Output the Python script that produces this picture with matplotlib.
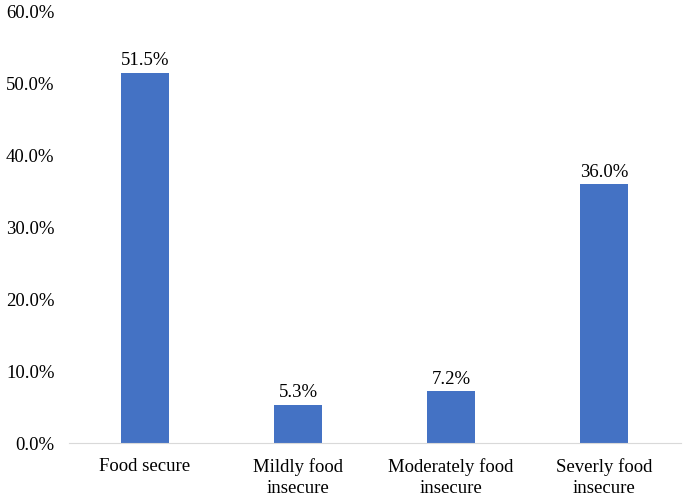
import matplotlib
matplotlib.use("Agg")
import matplotlib.pyplot as plt

categories = ["Food secure", "Mildly food\ninsecure", "Moderately food\ninsecure", "Severly food\ninsecure"]
values = [51.5, 5.3, 7.2, 36.0]
yticks = [0, 10, 20, 30, 40, 50, 60]

plt.rcParams['font.family'] = ['Liberation Serif', 'DejaVu Serif']

fig = plt.figure(figsize=(6.85, 4.97), dpi=100)
ax = fig.add_axes([68.5/685, (497-443)/497, (680.5-68.5)/685, (443-12)/497])

x = range(len(values))
bars = ax.bar(x, values, width=0.31, color='#4472C4')
for xi, v in zip(x, values):
    ax.text(xi, v + 0.5, f"{v:.1f}%", ha='center', va='bottom', fontsize=13.5)

ax.set_xlim(-0.5, len(values) - 0.5)
ax.set_ylim(0, 60)
ax.set_yticks(yticks)
ax.set_yticklabels([f"{t:.1f}%" for t in yticks], fontsize=13.5)
ax.set_xticks(list(x))
ax.set_xticklabels(categories, fontsize=13.5, linespacing=1.3)

for s in ['top', 'right', 'left']:
    ax.spines[s].set_visible(False)
ax.spines['bottom'].set_color('#d9d9d9')
ax.tick_params(axis='both', length=0)
ax.tick_params(axis='x', pad=11)
ax.tick_params(axis='y', pad=10)

fig.savefig("out.png", dpi=100)
